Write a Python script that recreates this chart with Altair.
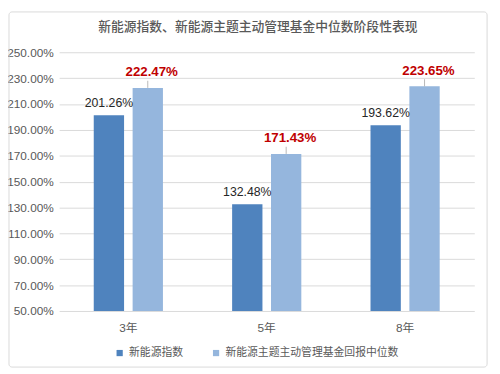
import altair as alt
import pandas as pd

categories = ["3年", "5年", "8年"]
series_names = ["新能源指数", "新能源主题主动管理基金回报中位数"]
index_values = [201.26, 132.48, 193.62]
fund_values = [222.47, 171.43, 223.65]
y_ticks = [50, 70, 90, 110, 130, 150, 170, 190, 210, 230, 250]
colors = ["#4f83be", "#95b6dd"]

rows = []
for c, a, b in zip(categories, index_values, fund_values):
    rows.append({"cat": c, "series": series_names[0], "value": a})
    rows.append({"cat": c, "series": series_names[1], "value": b})
df = pd.DataFrame(rows)

FONT = "Liberation Sans, Noto Sans CJK SC, sans-serif"
CJK = "Noto Sans CJK SC, sans-serif"

x_axis = alt.Axis(labelAngle=0, labelFont=FONT, labelFontSize=12,
                  labelColor="#595959", domain=False, ticks=False,
                  labelPadding=12)
y_axis = alt.Axis(values=y_ticks, tickCount=11,
                  labelExpr="format(datum.value, '.2f') + '%'",
                  labelFont=FONT, labelFontSize=12, labelColor="#595959",
                  labelOverlap=False,
                  domain=False, ticks=False, labelPadding=6,
                  gridColor="#d9d9d9", gridWidth=1)
x_scale = alt.Scale(paddingInner=0.5, paddingOuter=0.25)
y_scale = alt.Scale(domain=[50, 250], zero=False, nice=False)

x_enc = alt.X("cat:N", sort=categories, title=None, scale=x_scale, axis=x_axis)
y_enc = alt.Y("value:Q", scale=y_scale, title=None, axis=y_axis)
xoff = alt.XOffset("series:N", sort=series_names,
                   scale=alt.Scale(paddingInner=0.22, paddingOuter=0))

base = alt.Chart(df)

bars = base.mark_bar().encode(
    x=x_enc,
    xOffset=xoff,
    y=y_enc,
    y2=alt.datum(50),
    color=alt.Color("series:N", sort=series_names,
                    scale=alt.Scale(domain=series_names, range=colors),
                    legend=alt.Legend(title=None, orient="none", direction="horizontal",
                                      legendX=56, legendY=300,
                                      symbolType="square", symbolSize=40,
                                      symbolStrokeWidth=0,
                                      labelFont=CJK, labelFontSize=11,
                                      labelColor="#595959", columnPadding=28,
                                      labelOffset=4, labelLimit=400)),
)

idx_labels = base.transform_filter(
    alt.datum.series == series_names[0]
).transform_calculate(txt="format(datum.value, '.2f') + '%'").mark_text(
    dy=-12, baseline="middle", font=FONT, fontSize=12.5, color="#262626").encode(
    x=x_enc,
    xOffset=xoff,
    y=y_enc,
    text="txt:N",
)

fund_labels = base.transform_filter(
    alt.datum.series == series_names[1]
).transform_calculate(txt="format(datum.value, '.2f') + '%'").mark_text(
    dy=-16, dx=4, baseline="middle", font=FONT, fontSize=13.5, fontWeight="bold",
    color="#c00000").encode(
    x=x_enc,
    xOffset=xoff,
    y=y_enc,
    text="txt:N",
)

leaders = base.transform_filter(
    alt.datum.series == series_names[1]
).transform_calculate(top="datum.value + 5.5").mark_rule(
    color="#a6a6a6", strokeWidth=0.8).encode(
    x=x_enc,
    xOffset=xoff,
    y=y_enc,
    y2="top:Q",
)

border = alt.Chart(alt.Data(values=[{}])).mark_rect(
    fill=None, stroke="#d9d9d9", strokeWidth=1, cornerRadius=3).encode(
    x=alt.value(-51), x2=alt.value(435), y=alt.value(-41), y2=alt.value(320))

chart = alt.layer(border, bars, idx_labels, leaders, fund_labels).properties(
    width=422, height=263,
    autosize=alt.AutoSizeParams(type="none"),
    padding={"left": 52, "top": 42, "right": 18, "bottom": 58},
    background="white",
    title=alt.TitleParams("新能源指数、新能源主题主动管理基金中位数阶段性表现",
                          font=CJK, fontSize=13, fontWeight=500, color="#595959",
                          anchor="middle", dx=-9, dy=23, offset=0),
).configure_view(stroke=None)

chart.save("out.html", embed_options={"renderer": "svg", "actions": False})
